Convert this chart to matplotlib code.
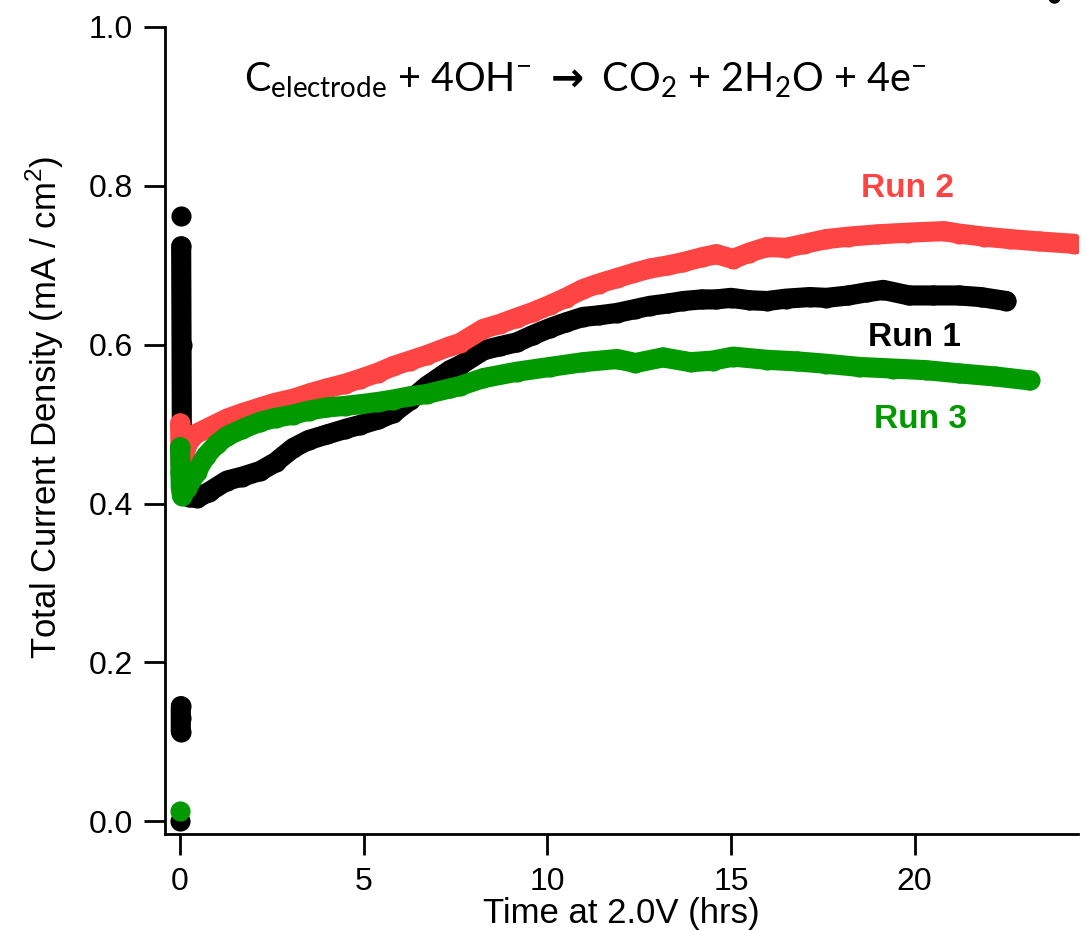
import numpy as np
import matplotlib
matplotlib.use("Agg")
from matplotlib import pyplot as plt
from matplotlib.ticker import MultipleLocator, FormatStrFormatter

plt.rcParams['font.family'] = ['Liberation Sans', 'DejaVu Sans']
plt.rcParams['mathtext.fontset'] = 'custom'
plt.rcParams['mathtext.rm'] = 'Lato'
plt.rcParams['mathtext.fallback'] = 'stixsans'

nan = np.nan

# Run 1 (black): NaN breaks the isolated start-up points from the main trace
run1_t = [0.00, nan, 0.02, 0.02, 0.02, nan, 0.03, nan,
          0.03, 0.04, 0.05, 0.08, 0.25, 0.46, 0.8, 1.28, 1.7, 2.18, 2.6, 3.08,
          3.5, 4.0, 4.5, 4.9, 5.4, 5.8, 6.26, 6.72, 7.35, 7.62, 8.26, 8.7,
          9.17, 9.6, 10.07, 10.5, 10.97, 11.4, 11.9, 12.4, 12.8, 13.3, 13.7,
          14.2, 14.6, 15.0, 15.5, 15.98, 16.5, 17.15, 17.6, 18.2, 18.7, 19.15,
          19.85, 20.5, 21.2, 21.8, 22.5]
run1_j = [0.000, nan, 0.113, 0.130, 0.145, nan, 0.762, nan,
          0.724, 0.600, 0.470, 0.415, 0.408, 0.407, 0.415, 0.429, 0.434, 0.441,
          0.452, 0.470, 0.480, 0.487, 0.494, 0.499, 0.506, 0.514, 0.530, 0.548,
          0.568, 0.574, 0.593, 0.598, 0.603, 0.612, 0.621, 0.628, 0.635, 0.637,
          0.640, 0.645, 0.649, 0.652, 0.655, 0.657, 0.657, 0.659, 0.656, 0.655,
          0.658, 0.660, 0.659, 0.662, 0.666, 0.669, 0.662, 0.662, 0.662, 0.660,
          0.655]

# Run 2 (red)
run2_t = [0.00, 0.01, 0.02, 0.08, 0.2, 0.4, 0.8, 1.28, 1.7, 2.18, 2.6, 3.08,
          3.54, 4.0, 4.5, 4.9, 5.4, 5.8, 6.26, 6.72, 7.35, 7.62, 8.26, 8.7,
          9.17, 9.6, 10.07, 10.5, 10.97, 11.4, 11.9, 12.4, 12.8, 13.3, 13.7,
          14.2, 14.6, 15.06, 15.5, 15.98, 16.5, 17.0, 17.6, 18.2, 19.0, 19.8,
          20.8, 21.2, 21.9, 22.6, 23.4, 24.35]
run2_j = [0.501, 0.470, 0.450, 0.455, 0.475, 0.487, 0.496, 0.507, 0.514,
          0.521, 0.527, 0.532, 0.539, 0.545, 0.551, 0.557, 0.565, 0.573, 0.580,
          0.587, 0.598, 0.602, 0.620, 0.626, 0.634, 0.641, 0.650, 0.659, 0.670,
          0.677, 0.684, 0.691, 0.696, 0.700, 0.704, 0.710, 0.714, 0.708, 0.716,
          0.723, 0.722, 0.727, 0.733, 0.736, 0.739, 0.741, 0.743, 0.740, 0.736,
          0.733, 0.730, 0.727]

# Run 3 (green)
run3_t = [0.00, nan, 0.00, 0.01, 0.02, 0.05, 0.2, 0.45, 0.7, 1.0, 1.28, 1.7,
          2.18, 2.6, 3.08, 3.5, 4.0, 4.5, 4.9, 5.4, 5.8, 6.26, 6.72, 7.35, 7.62,
          8.26, 9.17, 10.07, 10.97, 11.9, 12.4, 13.15, 13.9, 14.5, 15.06, 15.98,
          16.8, 17.6, 18.5, 19.4, 20.3, 21.2, 22.2, 23.14]
run3_j = [0.013, nan, 0.471, 0.440, 0.420, 0.410, 0.420, 0.440, 0.460, 0.475,
          0.485, 0.494, 0.503, 0.508, 0.512, 0.517, 0.521, 0.523, 0.525, 0.528,
          0.531, 0.535, 0.538, 0.545, 0.548, 0.558, 0.566, 0.572, 0.578, 0.582,
          0.577, 0.584, 0.578, 0.580, 0.585, 0.581, 0.579, 0.576, 0.572, 0.570,
          0.568, 0.564, 0.560, 0.555]

# lone point clipped at the top edge
stray_t = [23.8]
stray_j = [1.038]

runs = [(run1_t, run1_j, 'black', 'Run 1'),
        (run2_t, run2_j, '#ff4444', 'Run 2'),
        (run3_t, run3_j, '#009900', 'Run 3')]

fig = plt.figure(figsize=(10.87, 9.31), dpi=100)
ax = fig.add_axes([0.1518, 0.1042, 0.8399, 0.8668])

for t, j, c, name in runs:
    ax.plot(t, j, '-o', color=c, lw=14.5, ms=14.5, mew=0,
            solid_capstyle='round', solid_joinstyle='round')
ax.plot(stray_t, stray_j, 'o', color='black', ms=9, mew=0, clip_on=False)

ax.text(19.8, 0.797, 'Run 2', color='#ff4444', fontsize=24, fontweight='bold',
        ha='center', va='center')
ax.text(20.0, 0.609, 'Run 1', color='black', fontsize=24, fontweight='bold',
        ha='center', va='center')
ax.text(20.15, 0.506, 'Run 3', color='#009900', fontsize=24, fontweight='bold',
        ha='center', va='center')

ax.text(11.05, 0.933,
        r'C$_{\mathregular{electrode}}$ + 4OH$^{\mathregular{-}}$ $\mathbf{\rightarrow}$ '
        r'CO$_{\mathregular{2}}$ + 2H$_{\mathregular{2}}$O + 4e$^{\mathregular{-}}$',
        family='Lato', fontsize=28.5, ha='center', va='center')

ax.set_xlim(-0.41, 24.45)
ax.set_ylim(-0.016, 1.0)
ax.xaxis.set_major_locator(MultipleLocator(5))
ax.yaxis.set_major_locator(MultipleLocator(0.2))
ax.yaxis.set_major_formatter(FormatStrFormatter('%.1f'))

for s in ['top', 'right']:
    ax.spines[s].set_visible(False)
for s in ['left', 'bottom']:
    ax.spines[s].set_linewidth(2)
ax.tick_params(direction='out', length=15, width=2, labelsize=23)
ax.tick_params(axis='x', pad=9)
ax.tick_params(axis='y', pad=8)

ax.set_xlabel('Time at 2.0V (hrs)', fontsize=25, labelpad=0)
ax.set_ylabel(r'Total Current Density (mA / cm$^{\mathregular{2}}$)', fontsize=25)
ax.yaxis.set_label_coords(-0.108, 0.529)

fig.savefig('out.png', dpi=100)
